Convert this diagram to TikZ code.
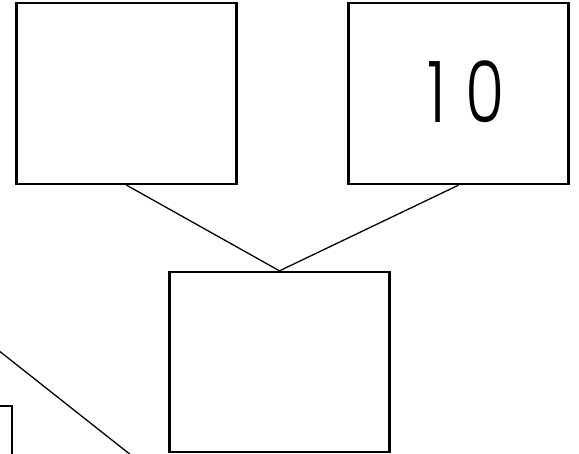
\documentclass[tikz,border=0pt]{standalone}
\usepackage{fontspec}
\setmainfont{Poppins}[UprightFont=* Light]
\usetikzlibrary{shadows}
\begin{document}
\begin{tikzpicture}[x=1pt,y=-1pt,
  card/.style={draw=black, line width=2.3pt, fill=white, inner sep=0pt,
    minimum width=220pt, minimum height=181pt,
    drop shadow={shadow xshift=1.5pt, shadow yshift=-1.5pt, opacity=0.12}},
  link/.style={draw=black, line width=1.3pt}]
\useasboundingbox (0,0) rectangle (579,454);
\clip (0,0) rectangle (579,454);
\fill[white] (0,0) rectangle (579,454);
% partly visible box at lower left
\node[card, anchor=north east] (lb) at (13,405) {};
\coordinate (dgA) at (-40,320);
\coordinate (dgB) at (160,478);
\draw[link] (dgA) -- (dgB);
% main boxes
\node[card] (tl) at (126.5,93.5) {};
\node[card] (tr) at (458.5,93.5) {\hspace*{15pt}\raisebox{4pt}{\scalebox{0.75}[1]{\fontsize{85}{85}\selectfont 1\hspace{26pt}0}}};
\node[card, minimum height=180pt] (bm) at (279.5,362) {};
\draw[link] (tl.south) -- (bm.north);
\draw[link] (tr.south) -- (bm.north);
\end{tikzpicture}
\end{document}
